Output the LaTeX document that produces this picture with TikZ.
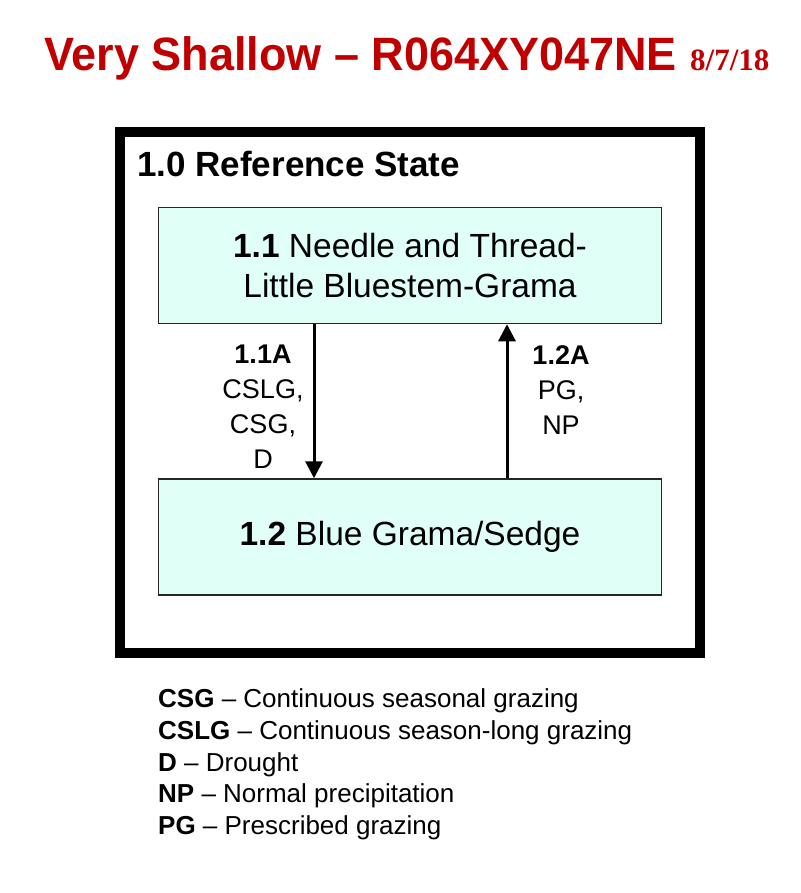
\documentclass[tikz,border=0pt]{standalone}
\usepackage{fontspec}
\setmainfont{Liberation Sans}
\newfontfamily\datefont{Liberation Serif}
\usetikzlibrary{arrows.meta}
\definecolor{titlered}{RGB}{192,0,0}
\definecolor{statefill}{RGB}{223,255,247}
\tikzset{
  statebox/.style={draw=black!85,line width=1.5pt,fill=statefill,minimum width=503pt,minimum height=116pt,align=center,font=\fontsize{33.5}{40}\selectfont},
  pathlabel/.style={anchor=north,inner sep=0pt,align=center,font=\fontsize{27}{35}\selectfont},
  transition/.style={-{Triangle[length=17pt,width=17pt]},line width=3pt},
}
\begin{document}
\begin{tikzpicture}[x=1pt,y=-1pt]
        \useasboundingbox (0,0) rectangle (800,893);
        %
        \node[anchor=base west,inner sep=0pt,text=titlered,font=\fontsize{45}{54}\selectfont\bfseries,yscale=1.04] (title) at (44,71) {Very Shallow – R064XY047NE};
        \node[anchor=base west,inner sep=0pt,text=titlered,font=\datefont\fontsize{31}{36}\selectfont\bfseries] (date) at (690,71) {8/7/18};
        %
        \node[draw,line width=9.5pt,minimum width=580pt,minimum height=521pt,inner sep=0pt] (frame) at (410,392.5) {}; % Reference state
        \node[anchor=base west,inner sep=0pt,font=\fontsize{35}{42}\selectfont\bfseries] (refstate) at (137,177) {1.0 Reference State};
        %
        \node[statebox] (s11) at (410,265.5) {\textbf{1.1} Needle and Thread-\\Little Bluestem-Grama};
        \node[statebox] (s12) at (410,537) {\textbf{1.2} Blue Grama/Sedge};
        %
        \draw[transition] ([xshift=-96pt]s11.south) -- ([xshift=-96pt]s12.north); % 1.1A
        \draw[transition] ([xshift=97pt]s12.north) -- ([xshift=97pt]s11.south); % 1.2A
        \node[pathlabel] (t11a) at (263,345) {\textbf{1.1A}\\CSLG,\\CSG,\\D};
        \node[pathlabel] (t12a) at (561,345) {\textbf{1.2A}\\PG,\\NP};
        %
        \node[anchor=north west,inner sep=0pt,align=left,font=\fontsize{26}{31.75}\selectfont] (legend) at (158,688.5) {\textbf{CSG} – Continuous seasonal grazing\\\textbf{CSLG} – Continuous season-long grazing\\\textbf{D} – Drought\\\textbf{NP} – Normal precipitation\\\textbf{PG} – Prescribed grazing};
      \end{tikzpicture}
\end{document}
